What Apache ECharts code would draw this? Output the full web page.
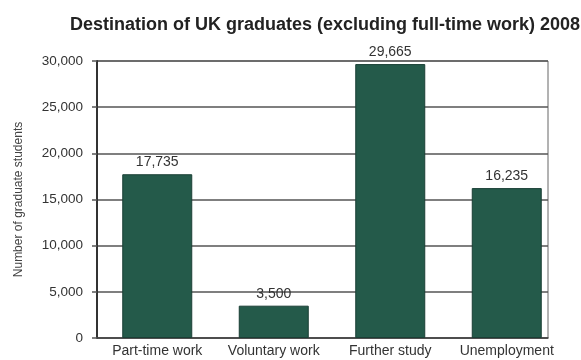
<!DOCTYPE html>
<html>
<head>
<meta charset="utf-8">
<script src="https://cdn.jsdelivr.net/npm/echarts@6/dist/echarts.min.js"></script>
<style>
  html, body { margin: 0; padding: 0; background: #fff; }
  #chart { width: 581px; height: 360px; }
</style>
</head>
<body>
<div id="chart"></div>
<script>
// destinations and counts
var categories = ['Part-time work', 'Voluntary work', 'Further study', 'Unemployment'];
var graduates = [17735, 3500, 29665, 16235];
var yTicks = [0, 5000, 10000, 15000, 20000, 25000, 30000];

var font = 'Liberation Sans, Arial, sans-serif';
var chart = echarts.init(document.getElementById('chart'));

function fmt(v) { return v.toLocaleString('en-US'); }

var yMin = yTicks[0], yMax = yTicks[yTicks.length - 1];

var option = {
    backgroundColor: '#fff',
    title: {
        text: 'Destination of UK graduates (excluding full-time work) 2008',
        left: 320,
        textAlign: 'center',
        top: 11,
        textStyle: { fontFamily: font, fontSize: 18, fontWeight: 'bold', color: '#222' }
    },
    // grid 0 holds the frame and gridlines, grid 1 the bars (the photo's bars sit a bit right)
    grid: [
        { left: 97, right: 33, top: 61, bottom: 22, show: true, borderColor: '#666', borderWidth: 1 },
        { left: 99, right: 16, top: 61, bottom: 22 }
    ],
    xAxis: [
        {
            type: 'category', gridIndex: 0, data: categories,
            axisLine: { lineStyle: { color: '#444', width: 1.5 } },
            axisTick: { show: false },
            axisLabel: { show: false }
        },
        {
            type: 'category', gridIndex: 1, data: categories,
            axisLine: { show: false },
            axisTick: { show: false },
            axisLabel: { interval: 0, hideOverlap: false, fontFamily: font, fontSize: 14, color: '#333', margin: 6 }
        }
    ],
    yAxis: [
        {
            type: 'value', gridIndex: 0,
            min: yMin, max: yMax, interval: 5000,
            name: 'Number of graduate students',
            nameLocation: 'middle',
            nameGap: 72,
            nameTextStyle: { fontFamily: font, fontSize: 12, color: '#444' },
            axisLine: { show: true, lineStyle: { color: '#333', width: 2 } },
            axisTick: { show: true, length: 5, lineStyle: { color: '#555', width: 1.5 } },
            axisLabel: { fontFamily: font, fontSize: 13.5, color: '#333', margin: 14, formatter: fmt },
            splitLine: { lineStyle: { color: '#555', width: 1.5 } }
        },
        {
            type: 'value', gridIndex: 1,
            min: yMin, max: yMax, interval: 5000,
            show: false
        }
    ],
    series: [{
        type: 'bar',
        xAxisIndex: 1,
        yAxisIndex: 1,
        data: graduates,
        barWidth: 70,
        itemStyle: { color: '#245a4a', borderColor: '#1a3f35', borderWidth: 1 },
        label: {
            show: true,
            position: 'top',
            distance: 5,
            fontFamily: font,
            fontSize: 14,
            color: '#333',
            formatter: function (p) { return fmt(p.value); }
        }
    }]
};
chart.setOption(option);
</script>
</body>
</html>
